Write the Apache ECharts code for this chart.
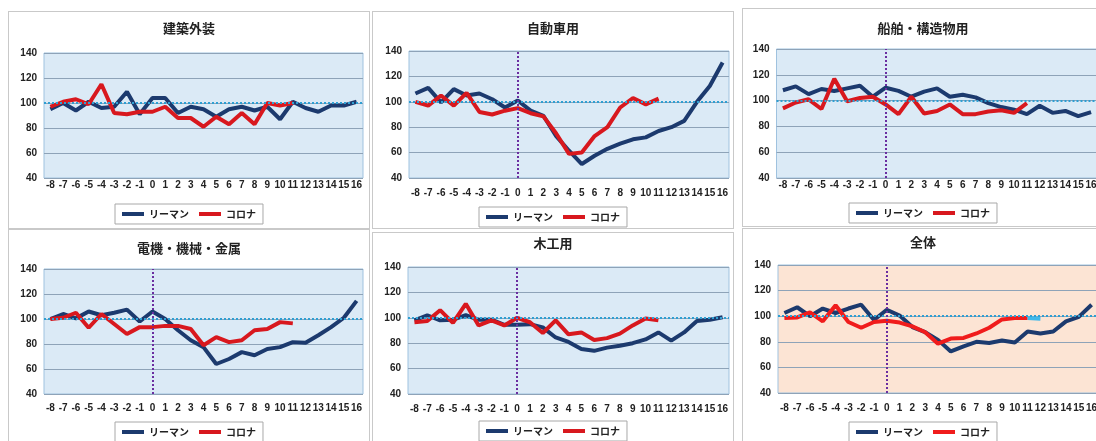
<!DOCTYPE html>
<html>
<head>
<meta charset="utf-8">
<script src="https://cdn.jsdelivr.net/npm/echarts@6/dist/echarts.min.js"></script>
<style>
  html, body { margin: 0; padding: 0; background: #fff; overflow: hidden; width: 1096px; height: 441px; position: relative; }
  .panel { position: absolute; border: 1px solid #c9c9c9; box-sizing: border-box; background: #fff; }
</style>
</head>
<body>
<div id="p1" class="panel"></div>
<div id="p2" class="panel"></div>
<div id="p3" class="panel"></div>
<div id="p4" class="panel"></div>
<div id="p5" class="panel"></div>
<div id="p6" class="panel"></div>
<script>
// Months relative to the shock (0 = start)
const xLabels = ['-8', '-7', '-6', '-5', '-4', '-3', '-2', '-1', '0', '1', '2', '3', '4',
  '5', '6', '7', '8', '9', '10', '11', '12', '13', '14', '15', '16'];
const yTicks = { min: 40, max: 140, interval: 20 };

const kenchikuLehman = [95, 100, 94, 101, 96, 97, 109, 91, 104, 104, 92, 97, 95, 89, 95, 97, 94, 97, 87, 101, 96, 93, 98, 98, 101];
const kenchikuCorona = [97, 101, 103, 99, 115, 92, 91, 93, 93, 97, 88, 88, 81, 89, 83, 92, 83, 100, 98, 100];

const jidoshaLehman = [106.5, 111, 99.5, 110, 105, 106.5, 102, 95.5, 101, 93, 89, 73, 61.5, 51, 57.5, 63, 67, 70.5, 72, 77, 80, 85, 100, 112.5, 131];
const jidoshaCorona = [100, 97, 105, 97, 107, 92, 90, 93, 95, 91, 88.5, 75, 59, 60, 73, 80, 95.5, 103, 98, 102.5];

const senpakuLehman = [108, 111, 105, 109, 107.5, 109.5, 111.5, 103, 110, 107.5, 103, 107, 109.5, 103, 104.5, 102.5, 98, 95, 93, 89.5, 96, 90.5, 92, 88, 91];
const senpakuCorona = [94, 98.5, 101, 93.5, 117, 99.5, 102, 103, 97, 89.5, 103, 90, 92, 97, 89.5, 89.5, 91.5, 92.5, 90.5, 98];

const denkiLehman = [100, 104, 100.5, 106, 103, 105, 107.5, 98, 106, 100, 91, 83, 77.5, 64, 68, 73.5, 71, 76, 77.5, 81.5, 81, 87, 93.5, 101, 114.5];
const denkiCorona = [100, 101, 105, 93, 104, 96, 88, 93.5, 93.5, 94.5, 94.5, 92, 79, 85.5, 81.5, 83, 91, 92, 97.5, 96.5];

const mokkoLehman = [98, 102, 98, 98.5, 102, 98.5, 98.5, 94.5, 94.5, 95, 92.5, 84.5, 81, 75.5, 74, 76.5, 78, 80, 83, 88.5, 82, 88.5, 97.5, 98.5, 100.5];
const mokkoCorona = [96.5, 97.5, 106, 96, 111, 94, 98, 94, 100, 96.5, 88, 98, 87, 88.5, 82.5, 84, 87.5, 94, 99.5, 98];

const zentaiLehman = [102.5, 107, 100, 106, 102.5, 106, 109, 97, 105, 100.5, 91.5, 87.5, 81.5, 72.5, 76.5, 80, 79, 81, 79.5, 88, 86.5, 88, 96, 99.5, 109];
const zentaiCorona = [98.5, 99, 103, 96, 108.5, 95.5, 91, 95.5, 96.5, 95, 92, 87.5, 78.5, 82.5, 83, 86.5, 91, 97.5, 98.5, 98.5];
// Short light-blue stub after the last コロナ point (months 11-12)
const zentaiForecastStart = 19;
const zentaiForecast = [98.5, 98];

const NAVY = '#1c3a6e';
const RED = '#d8181e';
const BLUE_BG = '#dbeaf6';
const PEACH_BG = '#fce4d4';

// box: panel frame [left, top, width, height]; plot: inner plot area [left, top, width, height]
const panels = [
  { id: 'p1', title: '建築外装', lehman: kenchikuLehman, corona: kenchikuCorona,
    box: [8, 11, 362, 218], plot: [43, 52, 319, 125], titleY: 28, labelGap: 2, legendY: 203, zeroLine: false },
  { id: 'p2', title: '自動車用', lehman: jidoshaLehman, corona: jidoshaCorona,
    box: [372, 11, 362, 218], plot: [408, 50, 320, 127], titleY: 28, labelGap: 10, legendY: 206, zeroLine: true },
  { id: 'p3', title: '船舶・構造物用', lehman: senpakuLehman, corona: senpakuCorona,
    box: [742, 8, 362, 219], plot: [775.5, 48, 321, 129], titleY: 28, labelGap: 2, legendY: 202, zeroLine: true },
  { id: 'p4', title: '電機・機械・金属', lehman: denkiLehman, corona: denkiCorona,
    box: [8, 229, 362, 216], plot: [43, 268, 319, 125], titleY: 248, labelGap: 9, legendY: 421, zeroLine: true },
  { id: 'p5', title: '木工用', lehman: mokkoLehman, corona: mokkoCorona,
    box: [372, 232, 362, 213], plot: [407, 266, 321, 127], titleY: 243, labelGap: 10, legendY: 420, zeroLine: true },
  { id: 'p6', title: '全体', lehman: zentaiLehman, corona: zentaiCorona,
    box: [742, 228, 362, 217], plot: [777, 264, 320, 128], titleY: 242, labelGap: 10, legendY: 421, zeroLine: true,
    bg: PEACH_BG, red: '#f01c1c', forecast: true },
];

function buildOption(p) {
  const [bx, by, bw] = p.box;
  const [px, py, pw, ph] = p.plot;

  // Reference lines: 100 line always, dotted month-0 line on most panels
  const markData = [
    { yAxis: 100, lineStyle: { color: '#2f9fd2', type: 'dotted', width: 2 } }
  ];
  if (p.zeroLine) {
    markData.push({ xAxis: '0', lineStyle: { color: '#6a2ea0', type: 'dotted', width: 2 } });
  }

  const series = [
    {
      name: 'リーマン',
      type: 'line',
      data: p.lehman,
      symbol: 'none',
      lineStyle: { width: 4, color: NAVY },
      itemStyle: { color: NAVY },
      markLine: {
        silent: true,
        symbol: ['none', 'none'],
        label: { show: false },
        data: markData
      }
    },
    {
      name: 'コロナ',
      type: 'line',
      data: p.corona,
      symbol: 'none',
      lineStyle: { width: 4, color: p.red || RED },
      itemStyle: { color: p.red || RED }
    }
  ];

  if (p.forecast) {
    series.push({
      name: '見込み',
      type: 'line',
      data: zentaiForecast.map((v, i) => [xLabels[zentaiForecastStart + i], v]),
      symbol: 'none',
      lineStyle: { width: 4, color: '#3fb8ea' },
      itemStyle: { color: '#3fb8ea' }
    });
  }

  return {
    animation: false,
    textStyle: { fontFamily: '"Noto Sans CJK JP", "Noto Sans", sans-serif' },
    title: {
      text: p.title,
      left: 'center',
      top: p.titleY - by - 12,
      textStyle: { fontSize: 13, fontWeight: 'bold', color: '#222' }
    },
    legend: {
      data: ['リーマン', 'コロナ'],
      left: 'center',
      top: p.legendY - by,
      icon: 'rect',
      itemWidth: 22,
      itemHeight: 4,
      itemGap: 10,
      padding: [5, 7],
      borderColor: '#a8a8a8',
      borderWidth: 1,
      backgroundColor: '#fff',
      textStyle: { fontSize: 10, fontWeight: 'bold', color: '#222' }
    },
    grid: {
      left: px - bx,
      top: py - by,
      width: pw,
      height: ph,
      show: true,
      backgroundColor: p.bg || BLUE_BG,
      borderColor: '#9fc2df',
      borderWidth: 1
    },
    xAxis: {
      type: 'category',
      data: xLabels,
      boundaryGap: true,
      axisLine: { show: false },
      axisTick: { show: false },
      axisLabel: {
        interval: 0,
        margin: p.labelGap,
        fontSize: 10,
        fontWeight: 'bold',
        color: '#222',
        fontFamily: '"Liberation Sans", Arial, sans-serif'
      }
    },
    yAxis: {
      type: 'value',
      min: yTicks.min,
      max: yTicks.max,
      interval: yTicks.interval,
      axisLine: { show: false },
      axisTick: { show: false },
      axisLabel: {
        margin: 7,
        fontSize: 10,
        fontWeight: 'bold',
        color: '#222',
        fontFamily: '"Liberation Sans", Arial, sans-serif'
      },
      splitLine: { lineStyle: { color: '#8ea3b8', width: 1 } }
    },
    series: series
  };
}

panels.forEach(p => {
  const el = document.getElementById(p.id);
  el.style.left = p.box[0] + 'px';
  el.style.top = p.box[1] + 'px';
  el.style.width = p.box[2] + 'px';
  el.style.height = p.box[3] + 'px';
  const chart = echarts.init(el);
  chart.setOption(buildOption(p));
});
</script>
</body>
</html>
